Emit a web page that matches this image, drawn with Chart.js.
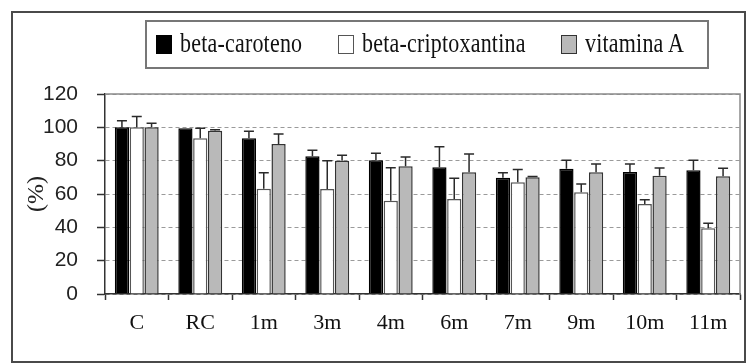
<!DOCTYPE html>
<html>
<head>
<meta charset="utf-8">
<script src="https://cdn.jsdelivr.net/npm/chart.js@4"></script>
<style>
  body { margin: 0; background: #fff; }
  #wrap { position: relative; width: 747px; height: 364px; overflow: hidden; }
  #frame { position: absolute; left: 11px; top: 11px; width: 731px; height: 348px; border: 2.5px solid #4a4a4a; }
  #myChart { position: absolute; left: 0; top: 0; }
  .legend { position: absolute; left: 145px; top: 20px; width: 560px; height: 45px; border: 2px solid #777;
            font-family: "Liberation Serif", serif; font-size: 22px; color: #111; }
  .item { position: absolute; top: 10px; display: flex; align-items: center; height: 24px; }
  .item span { display: inline-block; transform: scaleY(1.2); letter-spacing: 0.2px; }
  .sw { width: 16px; height: 19px; margin-right: 8px; box-sizing: border-box; border: 1.5px solid #444; }
</style>
</head>
<body>
<div id="wrap">
  <div id="frame"></div>
  <canvas id="myChart" width="747" height="364"></canvas>
  <div class="legend" id="legend"></div>
</div>
<script>
const categories = ['C', 'RC', '1m', '3m', '4m', '6m', '7m', '9m', '10m', '11m'];

const betaCaroteno = [100, 99.5, 93.4, 82.7, 80.2, 76, 69.8, 75.2, 73.2, 74.2];
const betaCarotenoErr = [4, 0, 4.3, 3.5, 4.3, 12.4, 3, 5, 4.8, 6];

const betaCripto = [100, 93.5, 63.2, 63, 56, 57, 67, 61, 54, 39.5];
const betaCriptoErr = [6.5, 6, 9.5, 17, 19.7, 12.5, 7.7, 5, 2.6, 3];

const vitaminaA = [100, 98, 90, 80, 76.7, 73, 70, 73, 71, 70.7];
const vitaminaAErr = [2.5, 0.5, 6, 3.3, 5.5, 11, 0.5, 5, 4.6, 4.8];

const seriesNames = ['beta-caroteno', 'beta-criptoxantina', 'vitamina A'];
const yMax = 120;
const yStep = 20;

const fills = ['#000000', '#ffffff', '#b9b9b9'];
const borders = ['#000000', '#555555', '#333333'];
const errors = [betaCarotenoErr, betaCriptoErr, vitaminaAErr];

// legend in html, so it can have the box around it
const legendPos = [9, 191, 414];
let $legend = document.getElementById('legend');
seriesNames.forEach((name, i) => {
    let item = document.createElement('div');
    item.className = 'item';
    item.style.left = legendPos[i] + 'px';
    item.innerHTML = '<div class="sw" style="background:' + fills[i] + ';border-color:' + borders[i] + '"></div><span>' + name + '</span>';
    $legend.append(item);
});

const errorBars = {
    id: 'errorBars',
    afterDatasetsDraw(chart) {
        const ctx = chart.ctx;
        const y = chart.scales.y;
        ctx.save();
        ctx.strokeStyle = '#2a2a2a';
        ctx.lineWidth = 1.5;
        chart.data.datasets.forEach((ds, i) => {
            const meta = chart.getDatasetMeta(i);
            meta.data.forEach((bar, j) => {
                const err = errors[i][j];
                if (!err) return;
                const top = y.getPixelForValue(ds.data[j] + err);
                ctx.beginPath();
                ctx.moveTo(bar.x, bar.y);
                ctx.lineTo(bar.x, top);
                ctx.moveTo(bar.x - 5, top);
                ctx.lineTo(bar.x + 5, top);
                ctx.stroke();
            });
        });
        ctx.restore();
    }
};

const plotBorder = {
    id: 'plotBorder',
    beforeDatasetsDraw(chart) {
        const a = chart.chartArea;
        const ctx = chart.ctx;
        ctx.save();
        ctx.strokeStyle = '#8a8a8a';
        ctx.lineWidth = 1.5;
        ctx.beginPath();
        ctx.moveTo(a.left, a.top);
        ctx.lineTo(a.right, a.top);
        ctx.lineTo(a.right, a.bottom);
        ctx.stroke();
        ctx.restore();
    }
};

const data = {
    labels: categories,
    datasets: [betaCaroteno, betaCripto, vitaminaA].map((values, i) => ({
        label: seriesNames[i],
        data: values,
        backgroundColor: fills[i],
        borderColor: borders[i],
        borderWidth: 1.5,
        categoryPercentage: 0.7,
        barPercentage: 0.96
    }))
};

let config = {
    type: 'bar',
    data: data,
    options: {
        responsive: false,
        animation: false,
        layout: { padding: { left: 0, right: 7, top: 94, bottom: 0 } },
        plugins: { legend: { display: false }, tooltip: { enabled: false } },
        scales: {
            x: {
                afterFit: s => { s.height = 70; },
                grid: { offset: true, drawOnChartArea: false, tickLength: 6, tickColor: '#333', tickWidth: 1.5 },
                border: { color: '#333', width: 1.5 },
                ticks: { color: '#111', padding: 10, font: { family: 'Liberation Serif', size: 22 } }
            },
            y: {
                min: 0,
                max: yMax,
                afterFit: s => { s.width = 105; },
                ticks: { stepSize: yStep, color: '#222', padding: 19, font: { family: 'Liberation Sans', size: 21 } },
                grid: { color: '#9a9a9a', lineWidth: 1, tickLength: 8, tickColor: '#333', tickWidth: 1.5 },
                border: { color: '#333', width: 1.5, dash: [4, 3] },
                title: { display: true, text: '(%)', color: '#222', padding: { top: 22, bottom: 0 },
                         font: { family: 'Liberation Serif', size: 24 } }
            }
        }
    },
    plugins: [plotBorder, errorBars]
};

let myChart = new Chart(document.getElementById('myChart'), config);
</script>
</body>
</html>
